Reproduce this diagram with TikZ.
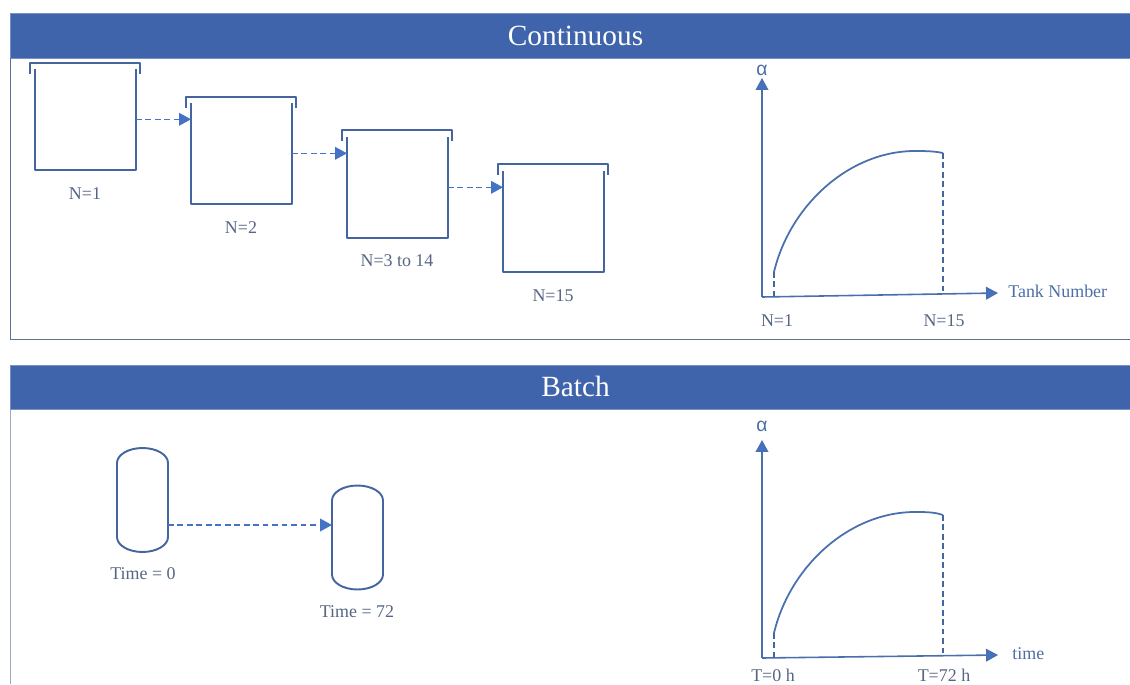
\documentclass[tikz,border=0pt]{standalone}
\usepackage{fontspec}
\setmainfont{Liberation Serif}
\newfontfamily\greekfont{Liberation Sans}
\usepackage{xcolor}
\usetikzlibrary{arrows.meta, positioning}
\definecolor{bandblue}{HTML}{3F64AB}
\definecolor{linkblue}{HTML}{4472C4}
\definecolor{tankblue}{HTML}{44659F}
\definecolor{plotblue}{HTML}{4A6FAE}
\definecolor{framegrey}{HTML}{5B7390}
\definecolor{labelgrey}{HTML}{566682}

\begin{document}
\begin{tikzpicture}[x=0.02cm, y=-0.02cm,
    band/.style={fill=bandblue, draw=bandblue!70!white, line width=0.4pt, inner sep=0pt, outer sep=0pt, minimum width=22.4cm, minimum height=0.89cm},
    bandtitle/.style={text=white, inner sep=0pt, font=\fontsize{16.7}{20}\selectfont},
    tank/.style={inner sep=0pt, outer sep=0pt, minimum width=2.02cm, minimum height=2.02cm},
    lid/.style={inner sep=0pt, outer sep=0pt, minimum width=2.2cm, minimum height=0.22cm},
    vessel/.style={inner sep=0pt, outer sep=0pt, minimum width=1.02cm, minimum height=1.48cm},
    wall/.style={draw=tankblue, line width=1.1pt, line join=round},
    flow/.style={draw=linkblue, line width=0.8pt, dash pattern=on 3.2pt off 2.2pt, -{Triangle[length=6.8pt, width=7.2pt, fill=linkblue]}},
    axis/.style={draw=plotblue, line width=0.9pt, -{Triangle[length=6.8pt, width=7.2pt, fill=linkblue]}},
    curve/.style={draw=plotblue, line width=1pt},
    drop/.style={draw=tankblue, line width=0.8pt, dash pattern=on 3.2pt off 2.2pt},
    tag/.style={inner sep=0pt, text=labelgrey, font=\fontsize{10.2}{12}\selectfont},
    plottag/.style={inner sep=0pt, text=plotblue!85!labelgrey, font=\fontsize{10.2}{12}\selectfont}]

    \useasboundingbox (0,0) rectangle (1130,684);

    % Header bands and frames
    \node[band] (contband) at (570,36) {};
    \node[band] (batchband) at (570,387.5) {};
    \node[bandtitle] (conttitle) at (575.5,36) {Continuous};
    \node[bandtitle] (batchtitle) at (575.5,386) {Batch};
    \coordinate (framecorner) at (contband.south west |- 0,339);
    \coordinate (frameend) at (1130,339);
    \coordinate (batchend) at (contband.south west |- 0,684);
    \draw[framegrey, line width=0.5pt] (contband.south west) -- (framecorner) -- (frameend);
    \draw[framegrey!60!white, line width=0.5pt] (batchband.south west) -- (batchend);

    % Tanks
    \node[tank] (t1) at (85.5,119.3) {};
    \node[tank] (t2) at (241.5,153.3) {};
    \node[tank] (t3) at (397.5,187.3) {};
    \node[tank] (t4) at (553.5,221.3) {};
    \node[lid] (l1) at (85,68.5) {};
    \node[lid] (l2) at (241,102.5) {};
    \node[lid] (l3) at (397,135.5) {};
    \node[lid] (l4) at (553,169.5) {};
    \draw[wall] (t1.north west) -- (t1.south west) -- (t1.south east) -- (t1.north east);
    \draw[wall] (t2.north west) -- (t2.south west) -- (t2.south east) -- (t2.north east);
    \draw[wall] (t3.north west) -- (t3.south west) -- (t3.south east) -- (t3.north east);
    \draw[wall] (t4.north west) -- (t4.south west) -- (t4.south east) -- (t4.north east);
    \draw[wall] (l1.south west) -- (l1.north west) -- (l1.north east) -- (l1.south east);
    \draw[wall] (l2.south west) -- (l2.north west) -- (l2.north east) -- (l2.south east);
    \draw[wall] (l3.south west) -- (l3.north west) -- (l3.north east) -- (l3.south east);
    \draw[wall] (l4.south west) -- (l4.north west) -- (l4.north east) -- (l4.south east);
    \draw[flow] (t1.east) -- (t1.east -| t2.west);
    \draw[flow] (t2.east) -- (t2.east -| t3.west);
    \draw[flow] (t3.east) -- (t3.east -| t4.west);
    \node[tag] (n1) at (85,194) {N=1};
    \node[tag] (n2) at (241,228) {N=2};
    \node[tag] (n3) at (397,261) {N=3 to 14};
    \node[tag] (n4) at (553,296) {N=15};

    % Continuous plot
    \coordinate (o1) at (762,297);
    \coordinate (ytip1) at (762,78);
    \coordinate (xtip1) at (998,293);
    \coordinate (cs1) at (774,272);
    \coordinate (cm1) at (917,151);
    \coordinate (ce1) at (943,153);
    \coordinate (ds1) at (774,296.5);
    \coordinate (de1) at (943,294);
    \draw[axis] (o1) -- (ytip1);
    \draw[axis] (o1) -- (xtip1);
    \draw[curve] (cs1) .. controls (790,205) and (850,150) .. (cm1) .. controls (928,151) and (936,151.5) .. (ce1);
    \draw[drop] (cs1) -- (ds1);
    \draw[drop] (ce1) -- (de1);
    \node[plottag, font=\fontsize{11}{13}\greekfont] (alpha1) at (762,70) {α};
    \node[plottag, anchor=west] (xname1) at (1008,291) {Tank Number};
    \node[tag] (xa1) at (777,321) {N=1};
    \node[tag] (xb1) at (944,321) {N=15};

    % Vessels
    \node[vessel] (v1) at (142.5,500) {};
    \node[vessel] (v2) at (357.5,537.5) {};
    \draw[wall] (v1.north west) arc[start angle=180, end angle=360, x radius=25.5, y radius=15] -- (v1.south east) arc[start angle=0, end angle=180, x radius=25.5, y radius=15] -- cycle;
    \draw[wall] (v2.north west) arc[start angle=180, end angle=360, x radius=25.5, y radius=15] -- (v2.south east) arc[start angle=0, end angle=180, x radius=25.5, y radius=15] -- cycle;
    \coordinate (vout) at (168,525);
    \draw[flow] (vout) -- (vout -| v2.west);
    \node[tag] (time0) at (143,574) {Time = 0};
    \node[tag] (time72) at (357,612) {Time = 72};

    % Batch plot
    \coordinate (o2) at (762,658);
    \coordinate (ytip2) at (762,440);
    \coordinate (xtip2) at (998,655);
    \coordinate (cs2) at (774,633);
    \coordinate (cm2) at (917,512);
    \coordinate (ce2) at (943,515);
    \coordinate (ds2) at (774,657.5);
    \coordinate (de2) at (943,655.5);
    \draw[axis] (o2) -- (ytip2);
    \draw[axis] (o2) -- (xtip2);
    \draw[curve] (cs2) .. controls (790,566) and (850,511) .. (cm2) .. controls (928,512) and (936,512.5) .. (ce2);
    \draw[drop] (cs2) -- (ds2);
    \draw[drop] (ce2) -- (de2);
    \node[plottag, font=\fontsize{11}{13}\greekfont] (alpha2) at (762,426) {α};
    \node[plottag, anchor=west] (xname2) at (1012,654) {time};
    \node[tag] (xa2) at (773,675) {T=0 h};
    \node[tag] (xb2) at (944,675) {T=72 h};
\end{tikzpicture}
\end{document}
